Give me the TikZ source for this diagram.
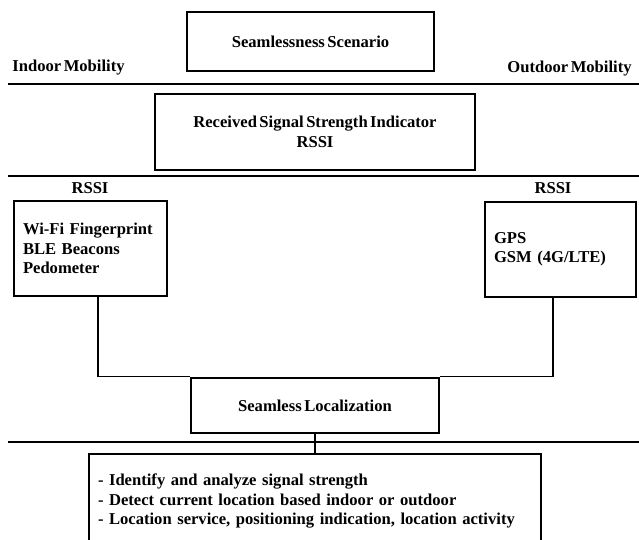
\documentclass[tikz,border=0pt]{standalone}
\usepackage{fontspec}
\setmainfont{Liberation Serif}[WordSpace=0.6]
\newcommand\dtxt{\bfseries\fontsize{16.6}{19.5}\selectfont}
\begin{document}
\begin{tikzpicture}[x=1pt,y=-1pt,
  box/.style={draw, line width=2.4pt, inner sep=0pt, font=\dtxt, align=center},
  lbl/.style={font=\dtxt, inner sep=0pt},
  rule/.style={line width=2pt},
  thinrule/.style={line width=1.3pt},
  wire/.style={line width=1.1pt}]
\clip (0,0) rectangle (639,540);

% top scenario and mobility labels
\node[box, minimum width=247pt, minimum height=59pt] (scen) at (310.5,41.5) {Seamlessness Scenario};
\node[lbl] (indoor) at (68.5,68) {Indoor Mobility};
\node[lbl] (outdoor) at (569.5,69) {Outdoor Mobility};
\coordinate (r1a) at (8,84);
\coordinate (r1b) at (645,84);
\draw[rule] (r1a) -- (r1b);

% RSSI block
\node[box, minimum width=320pt, minimum height=76pt] (rssi) at (315,132) {Received Signal Strength Indicator\\RSSI};
\coordinate (r2a) at (8,176);
\coordinate (r2b) at (645,176);
\draw[rule] (r2a) -- (r2b);

% indoor / outdoor technologies
\node[lbl] (rssiL) at (90,188) {RSSI};
\node[lbl] (rssiR) at (553,188) {RSSI};
\node[box, minimum width=153pt, minimum height=95pt, align=left, text width=135pt, inner xsep=9pt] (wifi) at (90.5,248.5) {Wi-Fi Fingerprint\\BLE Beacons\\Pedometer};
\node[box, minimum width=151pt, minimum height=95pt, align=left, text width=133pt, inner xsep=9pt] (gps) at (560.5,249.5) {GPS\\GSM (4G/LTE)};

% localization
\node[box, minimum width=248pt, minimum height=55pt] (loc) at (315,405.5) {Seamless Localization};
\draw[wire] ([xshift=7.5pt]wifi.south) |- (loc.north west);
\draw[wire] ([xshift=-7.5pt]gps.south) |- (loc.north east);
\coordinate (r3a) at (8,442);
\coordinate (r3b) at (645,442);
\draw[thinrule] (r3a) -- (r3b);

% outcomes
\node[box, anchor=north, minimum width=452pt, minimum height=94pt, align=left, text width=434pt, inner xsep=9pt] (tasks) at (315,453) {- Identify and analyze signal strength\\- Detect current location based indoor or outdoor\\- Location service, positioning indication, location activity};
\draw[wire] (loc.south) -- (tasks.north);
\end{tikzpicture}
\end{document}
